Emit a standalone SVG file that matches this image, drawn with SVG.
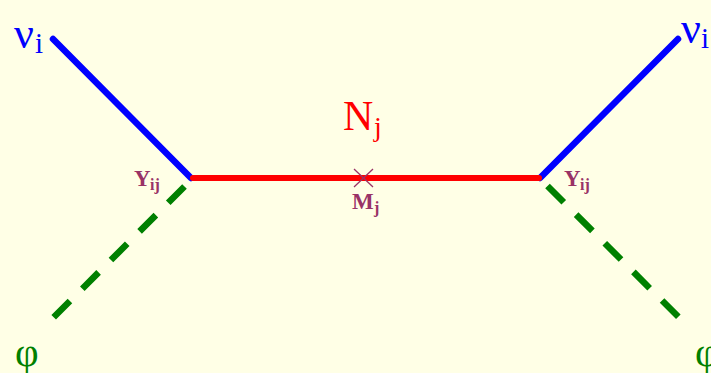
<svg xmlns="http://www.w3.org/2000/svg" width="711" height="373" viewBox="0 0 711 373">
<style>
text{font-family:"Liberation Serif","Times New Roman",serif}
.nu{fill:#0000ff;font-size:44px}
.nus{fill:#0000ff;font-size:29px}
.phi{fill:#008000;font-size:41px}
.lab{fill:#993366;font-weight:bold;font-size:23px}
.labs{fill:#993366;font-weight:bold;font-size:16px}
.f{fill:none;stroke:#0000ff;stroke-width:6.5;stroke-linecap:round}
.s{fill:none;stroke:#008000;stroke-width:6.5;stroke-dasharray:23 17.5}
.r{fill:none;stroke:#ff0000;stroke-width:6;stroke-linecap:round}
.x{fill:none;stroke:#993366;stroke-width:1.3}
</style>
<rect width="711" height="373" fill="#ffffe6"/>
<g id="connectors">
<line class="f" x1="53" y1="39" x2="191" y2="178"/>
<line class="f" x1="678" y1="39" x2="540" y2="178"/>
<line class="s" x1="184.5" y1="186.5" x2="53" y2="318"/>
<line class="s" x1="547.5" y1="186" x2="679" y2="317.5"/>
<line class="r" x1="193" y1="178" x2="539" y2="178"/>
</g>
<g id="mass"><line class="x" x1="354" y1="169" x2="373" y2="187"/><line class="x" x1="373" y1="169" x2="354" y2="187"/></g>
<g id="nu-left"><text class="nu" x="14" y="48">ν</text><text class="nus" x="35" y="53">i</text></g>
<g id="nu-right"><text class="nu" x="681" y="43">ν</text><text class="nus" x="701" y="48">i</text></g>
<g id="phi-left"><text class="phi" x="15" y="366">φ</text></g>
<g id="phi-right"><text class="phi" x="695" y="366">φ</text></g>
<g id="n"><text x="343" y="130" font-size="42" fill="#ff0000">N</text><text x="374" y="136" font-size="28" fill="#ff0000">j</text></g>
<g id="m"><text class="lab" x="352" y="209">M</text><text class="labs" x="374" y="213">j</text></g>
<g id="y-left"><text class="lab" x="134" y="186">Y</text><text class="labs" x="150" y="190">ij</text></g>
<g id="y-right"><text class="lab" x="564" y="186">Y</text><text class="labs" x="580" y="190">ij</text></g>
</svg>
